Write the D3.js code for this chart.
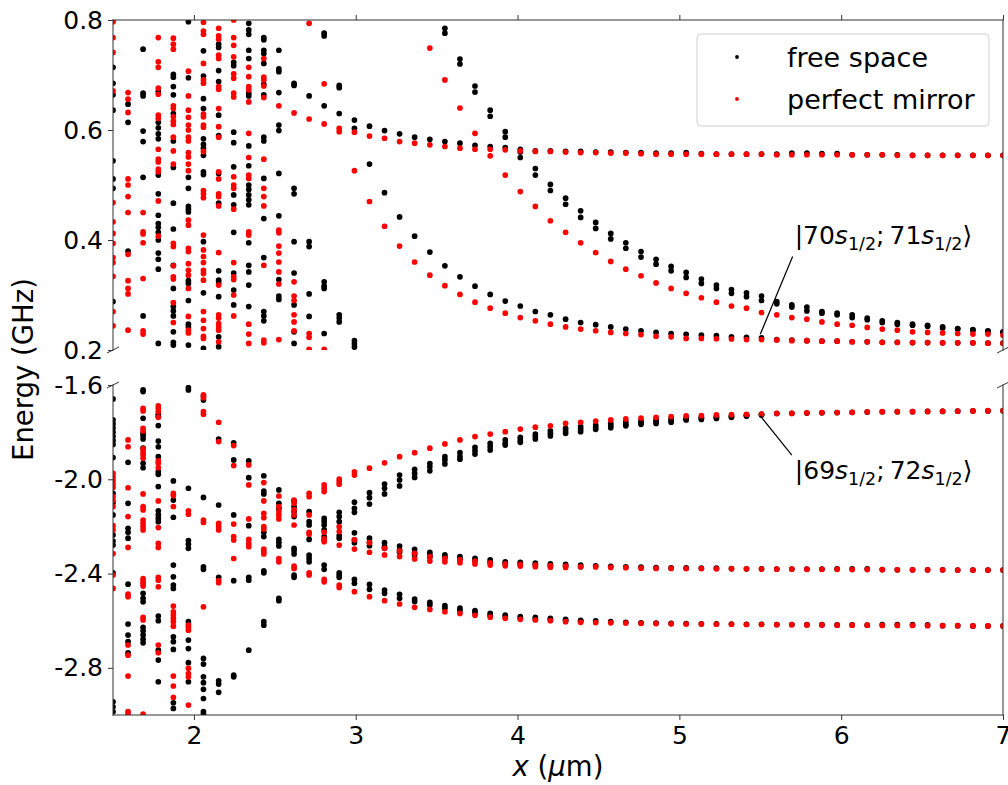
<!DOCTYPE html>
<html>
<head>
<meta charset="utf-8">
<script src="https://cdn.jsdelivr.net/npm/d3@7"></script>
<style>
  html, body { margin: 0; padding: 0; background: #fff; }
  svg { display: block; font-family: "DejaVu Sans", sans-serif; }
</style>
</head>
<body>
<svg id="chart" width="1008" height="785"></svg>
<script>
// Separation grid x (µm), 60 evaluation points
const xGrid = [1.500, 1.593, 1.686, 1.780, 1.873, 1.966, 2.059, 2.153, 2.246, 2.339,
  2.432, 2.525, 2.619, 2.712, 2.805, 2.898, 2.992, 3.085, 3.178, 3.271,
  3.364, 3.458, 3.551, 3.644, 3.737, 3.831, 3.924, 4.017, 4.110, 4.203,
  4.297, 4.390, 4.483, 4.576, 4.669, 4.763, 4.856, 4.949, 5.042, 5.136,
  5.229, 5.322, 5.415, 5.508, 5.602, 5.695, 5.788, 5.881, 5.975, 6.068,
  6.161, 6.254, 6.347, 6.441, 6.534, 6.627, 6.720, 6.814, 6.907, 7.000];

const seriesNames = ["free space", "perfect mirror"];
const yTicksUpper = [0.2, 0.4, 0.6, 0.8];
const yTicksLower = [-2.8, -2.4, -2.0, -1.6];
const xTicks = [2, 3, 4, 5, 6, 7];

// Short-distance region, columns 0-16: energies (GHz) per column, upper window
const freeShortUpper = [
  [0.714, 0.685, 0.664, 0.636, 0.544, 0.511, 0.494, 0.288],
  [0.647, 0.614, 0.380],
  [0.747, 0.667, 0.662, 0.598, 0.579, 0.514, 0.262],
  [0.670, 0.614, 0.604, 0.593, 0.584, 0.518, 0.484, 0.445, 0.430, 0.423, 0.414, 0.400, 0.376, 0.365, 0.347, 0.212],
  [0.701, 0.696, 0.679, 0.664, 0.630, 0.580, 0.532, 0.467, 0.420, 0.354, 0.312, 0.279, 0.271, 0.262, 0.233, 0.214, 0.209],
  [0.797, 0.695, 0.514, 0.494, 0.461, 0.456, 0.451, 0.326, 0.321, 0.290, 0.247, 0.242, 0.209],
  [0.744, 0.698, 0.657, 0.639, 0.584, 0.574, 0.567, 0.554, 0.524, 0.519, 0.397, 0.304, 0.203],
  [0.756, 0.750, 0.708, 0.688, 0.627, 0.590, 0.521, 0.467, 0.344, 0.327, 0.322, 0.297, 0.224, 0.206],
  [0.723, 0.717, 0.596, 0.577, 0.533, 0.482, 0.464, 0.414, 0.340, 0.309, 0.282],
  [0.794, 0.782, 0.774, 0.745, 0.730, 0.667, 0.662, 0.571, 0.535, 0.500, 0.492, 0.482, 0.473, 0.464, 0.395, 0.354, 0.342, 0.318, 0.279],
  [0.768, 0.764, 0.745, 0.739, 0.721, 0.683, 0.664, 0.587, 0.580, 0.512, 0.439, 0.368, 0.270, 0.262, 0.253],
  [0.745, 0.711, 0.706, 0.668, 0.609, 0.599, 0.521, 0.444, 0.328, 0.298, 0.292],
  [0.685, 0.681, 0.494, 0.484, 0.397, 0.340, 0.282, 0.233, 0.212],
  [0.662, 0.397, 0.388, 0.302, 0.261],
  [0.776, 0.771, 0.644, 0.324, 0.316, 0.312, 0.230],
  [0.681, 0.677, 0.630, 0.264, 0.258, 0.251],
  [0.217, 0.211, 0.205]
];
const mirrorShortUpper = [
  [0.797, 0.768, 0.741, 0.671, 0.468, 0.433, 0.412, 0.394, 0.368, 0.359, 0.334, 0.270, 0.244],
  [0.668, 0.656, 0.632, 0.511, 0.500, 0.479, 0.450, 0.374, 0.326, 0.312, 0.302, 0.236],
  [0.450, 0.415, 0.411, 0.395, 0.330, 0.235, 0.229],
  [0.768, 0.724, 0.714, 0.676, 0.665, 0.627, 0.621, 0.565, 0.547, 0.542, 0.529, 0.524, 0.471, 0.407],
  [0.767, 0.756, 0.747, 0.644, 0.639, 0.624, 0.616, 0.610, 0.587, 0.562, 0.538, 0.394, 0.388, 0.353, 0.333, 0.329, 0.286, 0.250],
  [0.707, 0.662, 0.636, 0.623, 0.609, 0.600, 0.587, 0.580, 0.559, 0.551, 0.538, 0.526, 0.436, 0.427, 0.385, 0.379, 0.357, 0.345, 0.336, 0.312, 0.261, 0.236, 0.231],
  [0.796, 0.780, 0.774, 0.721, 0.691, 0.685, 0.629, 0.624, 0.609, 0.605, 0.561, 0.490, 0.484, 0.477, 0.409, 0.382, 0.370, 0.359, 0.345, 0.339, 0.327, 0.270, 0.254, 0.239, 0.225, 0.221],
  [0.785, 0.771, 0.765, 0.736, 0.730, 0.679, 0.674, 0.639, 0.606, 0.587, 0.524, 0.511, 0.484, 0.479, 0.462, 0.377, 0.318, 0.264, 0.258, 0.248, 0.242, 0.236, 0.215],
  [0.800, 0.768, 0.754, 0.733, 0.702, 0.694, 0.667, 0.660, 0.515, 0.500, 0.494, 0.456, 0.359, 0.333, 0.328, 0.300, 0.262],
  [0.714, 0.697, 0.679, 0.673, 0.651, 0.594, 0.550, 0.518, 0.512, 0.415, 0.409, 0.247, 0.229, 0.212],
  [0.730, 0.696, 0.691, 0.680, 0.659, 0.547, 0.494, 0.479, 0.462, 0.354, 0.218, 0.213],
  [0.644, 0.418, 0.413, 0.389, 0.376, 0.360, 0.342, 0.320, 0.219],
  [0.631, 0.324, 0.298, 0.290, 0.264, 0.251, 0.235],
  [0.794, 0.620, 0.230, 0.223, 0.201],
  [0.684, 0.611, 0.201],
  [0.603, 0.597],
  []
];

// Short-distance region, columns 0-16: energies (GHz) per column, lower window
const freeShortLower = [
  [-1.659, -1.748, -1.765, -1.782, -1.800, -1.818, -1.836, -1.852, -1.908, -2.060, -2.100, -2.151, -2.236, -2.262, -2.279, -2.397, -2.944, -2.965, -2.986],
  [-1.928, -2.102, -2.208, -2.225, -2.250, -2.445, -2.614, -2.661, -2.689, -2.736],
  [-1.621, -1.628, -1.741, -1.805, -1.815, -1.829, -1.868, -1.932, -1.951, -2.484, -2.505, -2.520, -2.628, -2.643, -2.661, -2.679, -2.694],
  [-1.724, -1.734, -1.772, -1.838, -1.862, -1.904, -1.968, -1.979, -2.031, -2.134, -2.151, -2.166, -2.180, -2.580, -2.600, -2.725, -2.767, -2.859],
  [-2.007, -2.088, -2.161, -2.364, -2.414, -2.449, -2.463, -2.668, -2.689, -2.722, -2.948, -2.972],
  [-1.611, -1.621, -2.038, -2.260, -2.276, -2.293, -2.604, -2.682, -2.718, -2.778, -2.859],
  [-1.647, -1.664, -2.077, -2.371, -2.382, -2.760, -2.784, -2.838, -2.863, -2.891, -2.930, -2.986, -2.996],
  [-1.829, -2.109, -2.416, -2.855, -2.869, -2.904],
  [-1.845, -1.918, -2.151, -2.430, -2.831, -2.838],
  [-1.922, -1.993, -2.197, -2.416, -2.428, -2.725],
  [-1.985, -2.050, -2.062, -2.225, -2.243, -2.388, -2.397, -2.604, -2.619],
  [-2.045, -2.102, -2.123, -2.255, -2.269, -2.283, -2.505, -2.515],
  [-2.092, -2.116, -2.137, -2.158, -2.293, -2.303, -2.317, -2.406, -2.416],
  [-2.137, -2.180, -2.194, -2.255, -2.322, -2.336, -2.350],
  [-2.166, -2.180, -2.194, -2.215, -2.243, -2.258, -2.364, -2.382],
  [-2.140, -2.158, -2.180, -2.239, -2.250, -2.397, -2.406, -2.416],
  []
];
const mirrorShortLower = [
  [-1.975, -1.990, -2.005, -2.020, -2.035, -2.075, -2.090, -2.116, -2.197, -2.215, -2.315, -2.406, -2.463],
  [-1.833, -1.862, -2.036, -2.158, -2.289, -2.487, -2.498, -2.703, -2.746, -2.835, -2.986, -2.996],
  [-1.699, -1.710, -1.784, -1.795, -1.871, -1.886, -1.897, -1.911, -2.062, -2.116, -2.130, -2.173, -2.187, -2.201, -2.215, -2.421, -2.431, -2.442, -2.453, -2.586, -2.597, -2.996],
  [-1.688, -1.699, -1.713, -1.737, -1.922, -1.932, -1.951, -2.092, -2.205, -2.272, -2.289, -2.416, -2.428, -2.456, -2.703, -2.736],
  [-2.060, -2.069, -2.116, -2.538, -2.562, -2.576, -2.590, -2.604, -2.623, -2.835, -2.877, -2.925],
  [-2.134, -2.148, -2.619, -2.628, -2.640, -2.802, -2.824, -2.838, -2.958],
  [-1.642, -1.654, -1.713, -1.724, -2.173, -2.183, -2.541],
  [-1.758, -1.840, -2.187, -2.201, -2.215, -2.430, -2.439],
  [-1.857, -1.942, -2.190, -2.243, -2.258, -2.336],
  [-1.939, -2.024, -2.168, -2.255, -2.272, -2.286],
  [-2.014, -2.092, -2.144, -2.163, -2.201, -2.211, -2.296, -2.307, -2.317],
  [-2.071, -2.116, -2.137, -2.151, -2.168, -2.336, -2.350],
  [-2.088, -2.102, -2.130, -2.151, -2.194, -2.368, -2.378],
  [-2.060, -2.074, -2.151, -2.225, -2.233, -2.397, -2.406],
  [-2.024, -2.038, -2.052, -2.225, -2.253, -2.265, -2.425, -2.435],
  [-1.999, -2.010, -2.021, -2.201, -2.222, -2.279, -2.449, -2.459],
  [-1.968]
];

// Long-distance branches, columns 16-59 (null where the level is out of view)
const branchStart = 16;
const _ = null;
const freeUpperPlateau = [0.618, 0.607, 0.599, 0.593, 0.587, 0.583, 0.579, 0.576, 0.572, 0.570, 0.568, 0.565, 0.562, 0.562, 0.561, 0.561, 0.560, 0.560, 0.559, 0.559, 0.558, 0.558, 0.559, 0.557, 0.556, 0.556, 0.556, 0.556, 0.556, 0.558, 0.558, 0.557, 0.557, 0.555, 0.555, 0.555, 0.555, 0.554, 0.554, 0.554, 0.554, 0.554, 0.554, 0.554];
const mirrorUpperPlateau = [0.596, 0.589, 0.585, 0.579, 0.576, 0.573, 0.570, 0.567, 0.565, 0.565, 0.564, 0.562, 0.561, 0.561, 0.560, 0.559, 0.559, 0.558, 0.558, 0.557, 0.556, 0.556, 0.556, 0.556, 0.556, 0.556, 0.556, 0.556, 0.555, 0.555, 0.555, 0.555, 0.555, 0.555, 0.555, 0.555, 0.554, 0.554, 0.554, 0.554, 0.554, 0.554, 0.554, 0.554];
const freeUpperFallA = [_, _, _, _, _, _, 0.785, 0.729, 0.680, 0.636, 0.597, 0.560, 0.530, 0.501, 0.476, 0.453, 0.432, 0.412, 0.395, 0.379, 0.365, 0.352, 0.341, 0.329, 0.318, 0.310, 0.304, 0.298, 0.288, 0.282, 0.278, 0.270, 0.267, 0.264, 0.258, 0.253, 0.250, 0.247, 0.245, 0.242, 0.239, 0.237, 0.235, 0.233];
const freeUpperFallB = [_, _, _, _, _, _, 0.776, 0.720, 0.669, 0.625, 0.587, 0.550, 0.518, 0.490, 0.465, 0.441, 0.421, 0.402, 0.385, 0.369, 0.356, 0.344, 0.332, 0.321, 0.312, 0.303, 0.297, 0.290, 0.284, 0.278, 0.271, 0.267, 0.264, 0.259, 0.255, 0.250, 0.247, 0.245, 0.243, 0.240, 0.238, 0.236, 0.234, 0.232];
const mirrorUpperFall = [_, _, _, _, _, 0.749, 0.691, 0.640, 0.594, 0.553, 0.518, 0.488, 0.461, 0.435, 0.414, 0.395, 0.377, 0.361, 0.347, 0.335, 0.322, 0.312, 0.303, 0.295, 0.287, 0.280, 0.276, 0.268, 0.264, 0.259, 0.256, 0.251, 0.247, 0.245, 0.241, 0.238, 0.236, 0.233, 0.232, 0.231, 0.230, 0.229, 0.229, 0.227];
const freeUpperLow = [0.603, 0.538, 0.486, 0.442, 0.407, 0.378, 0.353, 0.333, 0.316, 0.301, 0.289, 0.280, 0.270, 0.264, 0.256, 0.250, 0.246, 0.242, 0.238, 0.235, 0.232, 0.230, 0.2285, 0.227, 0.226, 0.224, 0.223, 0.222, 0.219, 0.218, 0.217, 0.216, 0.216, 0.215, 0.215, 0.214, 0.214, 0.2135, 0.2135, 0.213, 0.213, 0.213, 0.2125, 0.2125];
const mirrorUpperLow = [0.526, 0.470, 0.425, 0.389, 0.360, 0.336, 0.317, 0.301, 0.287, 0.276, 0.267, 0.259, 0.253, 0.247, 0.242, 0.238, 0.235, 0.232, 0.230, 0.228, 0.225, 0.224, 0.221, 0.221, 0.2205, 0.220, 0.219, 0.219, 0.218, 0.217, 0.217, 0.216, 0.216, 0.215, 0.215, 0.214, 0.214, 0.2135, 0.2135, 0.213, 0.213, 0.213, 0.2125, 0.2125];

const freeLowerTopA = [-2.097, -2.057, -2.020, -1.982, -1.958, -1.933, -1.904, -1.887, -1.865, -1.848, -1.833, -1.822, -1.808, -1.794, -1.784, -1.777, -1.770, -1.763, -1.756, -1.752, -1.748, -1.744, -1.742, -1.737, -1.734, -1.731, -1.728, -1.725, -1.721, -1.720, -1.719, -1.718, -1.717, -1.716, -1.715, -1.714, -1.713, -1.713, -1.712, -1.712, -1.711, -1.710, -1.710, -1.709];
const freeLowerTopB = [-2.123, -2.078, -2.038, -2.003, -1.975, -1.947, -1.918, -1.904, -1.879, -1.862, -1.848, -1.833, -1.819, -1.805, -1.794, -1.787, -1.779, -1.773, -1.766, -1.760, -1.756, -1.752, -1.745, -1.741, -1.738, -1.734, -1.730, -1.726, _, _, _, _, _, _, _, _, _, _, _, _, _, _, _, _];
const freeLowerTopC = [-2.140, -2.105, -2.062, -2.028, -1.992, -1.964, -1.935, -1.915, -1.893, -1.876, -1.855, -1.843, -1.829, -1.816, -1.805, -1.798, -1.788, -1.781, -1.773, -1.767, -1.763, -1.758, -1.748, -1.746, -1.742, -1.737, -1.732, -1.727, _, _, _, _, _, _, _, _, _, _, _, _, _, _, _, _];
const mirrorLowerTop = [-1.982, -1.953, -1.930, -1.904, -1.887, -1.868, -1.850, -1.833, -1.819, -1.808, -1.798, -1.787, -1.779, -1.773, -1.763, -1.758, -1.753, -1.748, -1.744, -1.740, -1.737, -1.734, -1.731, -1.730, -1.727, -1.726, -1.724, -1.723, -1.720, -1.720, -1.718, -1.717, -1.717, -1.716, -1.714, -1.713, -1.713, -1.713, -1.712, -1.711, -1.711, -1.710, -1.709, -1.709];

const freeLowerMidA = [-2.227, -2.250, -2.269, -2.283, -2.297, -2.310, -2.321, -2.328, -2.335, -2.342, -2.350, -2.352, -2.356, -2.359, -2.361, -2.364, -2.367, -2.369, -2.371, -2.373, -2.375, -2.376, -2.376, -2.377, -2.377, -2.379, -2.380, -2.380, -2.381, -2.381, -2.381, -2.381, -2.380, -2.380, -2.380, -2.383, -2.384, -2.384, -2.384, -2.384, -2.385, -2.385, -2.385, -2.385];
const freeLowerMidB = [-2.257, -2.269, -2.286, -2.300, -2.311, -2.321, -2.331, -2.339, -2.345, -2.352, -2.356, -2.359, -2.363, -2.366, -2.368, -2.371, _, _, _, _, _, _, _, _, _, _, _, _, _, _, _, _, _, _, _, _, _, _, _, _, _, _, _, _];
const freeLowerMidC = [-2.269, -2.282, -2.293, -2.310, -2.321, -2.331, _, _, _, _, _, _, _, _, _, _, _, _, _, _, _, _, _, _, _, _, _, _, _, _, _, _, _, _, _, _, _, _, _, _, _, _, _, _];
const mirrorLowerMidA = [-2.257, -2.269, -2.293, -2.304, -2.314, -2.328, -2.336, -2.342, -2.347, -2.354, -2.359, -2.361, -2.364, -2.366, -2.368, -2.371, -2.372, -2.374, -2.375, -2.377, -2.378, -2.378, -2.379, -2.379, -2.380, -2.380, -2.380, -2.381, -2.381, -2.381, -2.382, -2.382, -2.382, -2.383, -2.383, -2.383, -2.384, -2.384, -2.384, -2.384, -2.385, -2.385, -2.385, -2.385];
const mirrorLowerMidB = [-2.296, -2.310, -2.321, -2.328, -2.338, -2.347, -2.350, -2.354, -2.359, -2.364, -2.367, -2.368, -2.371, -2.373, -2.374, _, _, _, _, _, _, _, _, _, _, _, _, _, _, _, _, _, _, _, _, _, _, _, _, _, _, _, _, _];

const freeLowerBotA = [-2.425, -2.446, -2.470, -2.488, -2.508, -2.522, -2.536, -2.547, -2.557, -2.569, -2.576, -2.583, -2.586, -2.590, -2.594, -2.598, -2.601, -2.604, -2.607, -2.609, -2.610, -2.611, -2.612, -2.613, -2.613, -2.614, -2.615, -2.615, -2.616, -2.616, -2.617, -2.617, -2.618, -2.618, -2.619, -2.617, -2.617, -2.617, -2.618, -2.621, -2.621, -2.622, -2.622, -2.622];
const freeLowerBotB = [-2.441, -2.467, -2.484, -2.505, -2.519, -2.533, -2.547, -2.557, -2.566, -2.577, -2.583, -2.590, -2.593, -2.596, -2.600, -2.602, _, _, _, _, _, _, _, _, _, _, _, _, _, _, _, _, _, _, _, _, _, _, _, _, _, _, _, _];
const mirrorLowerBot = [-2.477, -2.498, -2.515, -2.529, -2.543, -2.552, -2.562, -2.569, -2.577, -2.585, -2.590, -2.594, -2.597, -2.600, -2.604, -2.607, -2.608, -2.609, -2.610, -2.611, -2.612, -2.613, -2.614, -2.614, -2.615, -2.615, -2.616, -2.616, -2.617, -2.617, -2.618, -2.618, -2.619, -2.619, -2.619, -2.620, -2.620, -2.620, -2.621, -2.621, -2.621, -2.622, -2.622, -2.622];

// Pair-state annotations: [ket n1, ket n2, target x, target E, text-anchor x, text-anchor E]
const annotUpper = ["70", "71", 5.5, 0.2285, 5.70, 0.370];
const annotLower = ["69", "72", 5.5, -1.731, 5.695, -1.897];

// ---------------------------------------------------------------------------
const svg = d3.select("#chart");
const L = 113, R = 1003;
const up = { top: 20, bottom: 350 };
const lo = { top: 385, bottom: 715 };

const x = d3.scaleLinear().domain([1.5, 7]).range([L, R]);
const yUp = d3.scaleLinear().domain([0.2, 0.8]).range([up.bottom, up.top]);
const yLo = d3.scaleLinear().domain([-3.0, -1.6]).range([lo.bottom, lo.top]);

const COLORS = { "free space": "#000000", "perfect mirror": "#ff0000" };
const R_DOT = 2.85;

function fromColumns(cols, series, out) {
  cols.forEach((vals, i) => vals.forEach(e => out.push({ x: xGrid[i], e, series })));
}
function fromBranch(vals, series, out) {
  vals.forEach((e, k) => { if (e !== null) out.push({ x: xGrid[branchStart + k], e, series }); });
}

const upperPts = [];
fromColumns(freeShortUpper, seriesNames[0], upperPts);
[freeUpperPlateau, freeUpperFallA, freeUpperFallB, freeUpperLow].forEach(b => fromBranch(b, seriesNames[0], upperPts));
fromColumns(mirrorShortUpper, seriesNames[1], upperPts);
[mirrorUpperPlateau, mirrorUpperFall, mirrorUpperLow].forEach(b => fromBranch(b, seriesNames[1], upperPts));

const lowerPts = [];
fromColumns(freeShortLower, seriesNames[0], lowerPts);
[freeLowerTopA, freeLowerTopB, freeLowerTopC, freeLowerMidA, freeLowerMidB, freeLowerMidC, freeLowerBotA, freeLowerBotB]
  .forEach(b => fromBranch(b, seriesNames[0], lowerPts));
fromColumns(mirrorShortLower, seriesNames[1], lowerPts);
[mirrorLowerTop, mirrorLowerMidA, mirrorLowerMidB, mirrorLowerBot].forEach(b => fromBranch(b, seriesNames[1], lowerPts));

const defs = svg.append("defs");
defs.append("clipPath").attr("id", "clipUp").append("rect")
  .attr("x", L).attr("y", up.top).attr("width", R - L).attr("height", up.bottom - up.top);
defs.append("clipPath").attr("id", "clipLo").append("rect")
  .attr("x", L).attr("y", lo.top).attr("width", R - L).attr("height", lo.bottom - lo.top);

function drawPoints(pts, yScale, clipId) {
  const g = svg.append("g").attr("clip-path", `url(#${clipId})`);
  seriesNames.forEach(name => {
    g.append("g").selectAll("circle")
      .data(pts.filter(p => p.series === name))
      .join("circle")
      .attr("cx", d => x(d.x))
      .attr("cy", d => yScale(d.e))
      .attr("r", R_DOT)
      .attr("fill", COLORS[name]);
  });
}
drawPoints(upperPts, yUp, "clipUp");
drawPoints(lowerPts, yLo, "clipLo");

// Axes
const AXIS_COLOR = "#333";
const TICK_FONT = 25;
function styleAxis(g) {
  g.select(".domain").remove();
  g.selectAll(".tick line").attr("stroke", AXIS_COLOR).attr("stroke-width", 1);
  g.selectAll(".tick text").attr("fill", "#000").attr("font-size", TICK_FONT)
    .attr("font-family", "DejaVu Sans");
}
const fmt1 = v => d3.format(".1f")(v).replace("\u2212", "-");

svg.append("g").attr("transform", `translate(${L},0)`)
  .call(d3.axisLeft(yUp).tickValues(yTicksUpper).tickFormat(fmt1).tickSize(5).tickPadding(5))
  .call(styleAxis);
svg.append("g").attr("transform", `translate(${L},0)`)
  .call(d3.axisLeft(yLo).tickValues(yTicksLower).tickFormat(fmt1).tickSize(5).tickPadding(5))
  .call(styleAxis);
svg.append("g").attr("transform", `translate(0,${up.top})`)
  .call(d3.axisTop(x).tickValues(xTicks).tickFormat("").tickSize(5))
  .call(styleAxis);
svg.append("g").attr("transform", `translate(0,${lo.bottom})`)
  .call(d3.axisBottom(x).tickValues(xTicks).tickFormat(d3.format("d")).tickSize(5).tickPadding(6))
  .call(styleAxis);

// Spines (no spine along the break)
const spines = [
  [L, up.top, R, up.top], [L, up.top, L, up.bottom], [R, up.top, R, up.bottom],
  [L, lo.bottom, R, lo.bottom], [L, lo.top, L, lo.bottom], [R, lo.top, R, lo.bottom]
];
svg.append("g").selectAll("line").data(spines).join("line")
  .attr("x1", d => d[0]).attr("y1", d => d[1]).attr("x2", d => d[2]).attr("y2", d => d[3])
  .attr("stroke", AXIS_COLOR).attr("stroke-width", 1).attr("stroke-linecap", "square");

// Diagonal break marks
const breaks = [[L, up.bottom], [R, up.bottom], [L, lo.top], [R, lo.top]];
svg.append("g").selectAll("line").data(breaks).join("line")
  .attr("x1", d => d[0] - 6).attr("y1", d => d[1] + 3)
  .attr("x2", d => d[0] + 6).attr("y2", d => d[1] - 3)
  .attr("stroke", AXIS_COLOR).attr("stroke-width", 1);

// Axis labels
svg.append("text")
  .attr("transform", `translate(33,${(up.top + lo.bottom) / 2 + 2}) rotate(-90)`)
  .attr("text-anchor", "middle").attr("font-size", 27.5).attr("fill", "#000")
  .text("Energy (GHz)");

const xl = svg.append("text").attr("x", (L + R) / 2).attr("y", 776)
  .attr("text-anchor", "middle").attr("font-size", 27.5).attr("fill", "#000");
xl.append("tspan").attr("font-style", "italic").text("x");
xl.append("tspan").text(" (");
xl.append("tspan").attr("font-style", "italic").text("\u03bc");
xl.append("tspan").text("m)");

// Legend
const lg = svg.append("g");
lg.append("rect").attr("x", 697).attr("y", 34).attr("width", 292).attr("height", 92)
  .attr("rx", 4).attr("fill", "#fff").attr("fill-opacity", 0.8)
  .attr("stroke", "#d0d0d0").attr("stroke-width", 1);
seriesNames.forEach((name, i) => {
  lg.append("circle").attr("cx", 737).attr("cy", 57 + i * 42).attr("r", 1.9).attr("fill", COLORS[name]);
  lg.append("text").attr("x", 787).attr("y", 66.5 + i * 42).attr("font-size", 27)
    .attr("fill", "#000").text(name);
});

// Annotations
function ket(a, yScale) {
  const [n1, n2, tx, te, ax, ae] = a;
  svg.append("line")
    .attr("x1", x(ax)).attr("y1", yScale(ae))
    .attr("x2", x(tx)).attr("y2", yScale(te))
    .attr("stroke", "#000").attr("stroke-width", 1.2);
  return { n1, n2, ax, ae };
}
function ketText(xPx, yPx, n1, n2) {
  const t = svg.append("text").attr("x", xPx).attr("y", yPx).attr("font-size", 25).attr("fill", "#000");
  t.append("tspan").text("|" + n1);
  t.append("tspan").attr("font-style", "italic").text("s");
  t.append("tspan").attr("font-size", 17.5).attr("dy", 6).text("1/2");
  t.append("tspan").attr("dy", -6).text(";\u2009" + n2);
  t.append("tspan").attr("font-style", "italic").text("s");
  t.append("tspan").attr("font-size", 17.5).attr("dy", 6).text("1/2");
  t.append("tspan").attr("dy", -6).text("\u27e9");
}
const k1 = ket(annotUpper, yUp);
ketText(x(k1.ax) + 2, 244, k1.n1, k1.n2);
const k2 = ket(annotLower, yLo);
ketText(x(k2.ax) + 3, 479, k2.n1, k2.n2);
</script>
</body>
</html>
